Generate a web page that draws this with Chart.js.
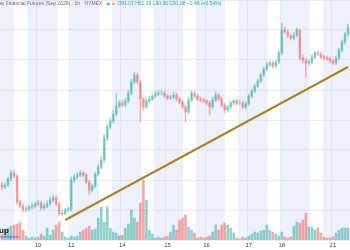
<!DOCTYPE html>
<html>
<head>
<meta charset="utf-8">
<script src="https://cdn.jsdelivr.net/npm/chart.js@4.4.0/dist/chart.umd.min.js"></script>
<style>
    html, body { margin: 0; padding: 0; background: #ffffff; }
    #wrap { width: 350px; height: 250px; }
</style>
</head>
<body>
<div id="wrap"><canvas id="chart"></canvas></div>
<script>
// hourly candles, prices
var open = [90.55, 90.53, 90.55, 90.61, 90.67, 90.64, 90.38, 90.34, 90.30, 90.31, 90.33, 90.34, 90.36, 90.37, 90.32, 90.34, 90.36, 90.40, 90.42, 90.36,
    90.26, 90.27, 90.30, 90.31, 90.60, 90.63, 90.65, 90.67, 90.65, 90.58, 90.50, 90.54, 90.66, 90.73, 90.80, 91.02, 91.13, 91.19, 91.26, 91.34,
    91.37, 91.35, 91.39, 91.47, 91.58, 91.65, 91.58, 91.41, 91.33, 91.39, 91.41, 91.44, 91.46, 91.47, 91.47, 91.44, 91.42, 91.43, 91.45, 91.41,
    91.38, 91.33, 91.28, 91.40, 91.47, 91.44, 91.41, 91.40, 91.39, 91.37, 91.33, 91.40, 91.45, 91.41, 91.35, 91.30, 91.33, 91.37, 91.39, 91.37,
    91.37, 91.33, 91.36, 91.44, 91.49, 91.54, 91.59, 91.65, 91.71, 91.75, 91.77, 91.74, 91.78, 91.87, 92.10, 92.08, 92.04, 92.02, 92.05, 92.10,
    91.82, 91.80, 91.77, 91.78, 91.83, 91.87, 91.86, 91.83, 91.82, 91.81, 91.79, 91.77, 91.82, 91.90, 91.98, 92.06];
var high = [90.58, 90.57, 90.63, 90.70, 90.70, 90.66, 90.40, 90.36, 90.34, 90.35, 90.37, 90.38, 90.40, 90.39, 90.37, 90.39, 90.43, 90.45, 90.44, 90.38,
    90.30, 90.32, 90.33, 90.63, 90.66, 90.68, 90.70, 90.69, 90.67, 90.60, 90.56, 90.68, 90.76, 90.84, 91.06, 91.16, 91.22, 91.30, 91.47, 91.40,
    91.40, 91.42, 91.50, 91.61, 91.68, 91.67, 91.60, 91.43, 91.42, 91.44, 91.46, 91.49, 91.50, 91.50, 91.49, 91.46, 91.45, 91.48, 91.47, 91.43,
    91.40, 91.35, 91.43, 91.50, 91.49, 91.46, 91.43, 91.42, 91.41, 91.39, 91.43, 91.48, 91.47, 91.43, 91.37, 91.35, 91.39, 91.41, 91.41, 91.40,
    91.39, 91.38, 91.46, 91.51, 91.56, 91.61, 91.67, 91.73, 91.78, 91.79, 91.79, 91.80, 91.90, 92.17, 92.13, 92.10, 92.06, 92.08, 92.12, 92.11,
    91.85, 91.82, 91.80, 91.85, 91.89, 91.89, 91.88, 91.85, 91.84, 91.83, 91.81, 91.84, 91.92, 92.00, 92.08, 92.16];
var low = [90.50, 90.51, 90.53, 90.59, 90.62, 90.35, 90.32, 90.28, 90.28, 90.29, 90.31, 90.32, 90.34, 90.30, 90.30, 90.32, 90.34, 90.38, 90.34, 90.24,
    90.24, 90.25, 90.28, 90.29, 90.58, 90.61, 90.63, 90.63, 90.56, 90.45, 90.48, 90.52, 90.64, 90.71, 90.78, 90.99, 91.10, 91.17, 91.24, 91.32,
    91.33, 91.33, 91.37, 91.45, 91.56, 91.56, 91.18, 91.30, 91.31, 91.37, 91.39, 91.42, 91.44, 91.45, 91.42, 91.40, 91.40, 91.41, 91.39, 91.36,
    91.31, 91.18, 91.26, 91.38, 91.42, 91.39, 91.38, 91.37, 91.35, 91.25, 91.31, 91.38, 91.39, 91.33, 91.27, 91.28, 91.31, 91.35, 91.35, 91.35,
    91.31, 91.31, 91.34, 91.42, 91.47, 91.52, 91.57, 91.63, 91.69, 91.73, 91.72, 91.72, 91.76, 91.85, 92.06, 92.02, 92.00, 92.00, 92.03, 91.80,
    91.77, 91.63, 91.75, 91.76, 91.81, 91.84, 91.81, 91.80, 91.79, 91.77, 91.75, 91.75, 91.80, 91.88, 91.96, 92.04];
var close = [90.53, 90.55, 90.61, 90.67, 90.64, 90.38, 90.34, 90.30, 90.31, 90.33, 90.34, 90.36, 90.37, 90.32, 90.34, 90.36, 90.40, 90.42, 90.36, 90.26,
    90.27, 90.30, 90.31, 90.60, 90.63, 90.65, 90.67, 90.65, 90.58, 90.50, 90.54, 90.66, 90.73, 90.80, 91.02, 91.13, 91.19, 91.26, 91.34, 91.37,
    91.35, 91.39, 91.47, 91.58, 91.65, 91.58, 91.41, 91.33, 91.39, 91.41, 91.44, 91.46, 91.47, 91.47, 91.44, 91.42, 91.43, 91.45, 91.41, 91.38,
    91.33, 91.28, 91.40, 91.47, 91.44, 91.41, 91.40, 91.39, 91.37, 91.33, 91.40, 91.45, 91.41, 91.35, 91.30, 91.33, 91.37, 91.39, 91.37, 91.37,
    91.33, 91.36, 91.44, 91.49, 91.54, 91.59, 91.65, 91.71, 91.75, 91.77, 91.74, 91.78, 91.87, 92.10, 92.08, 92.04, 92.02, 92.05, 92.10, 91.82,
    91.80, 91.77, 91.78, 91.83, 91.87, 91.86, 91.83, 91.82, 91.81, 91.79, 91.77, 91.82, 91.90, 91.98, 92.06, 92.13];
var volume = [60, 100, 120, 140, 150, 160, 180, 100, 40, 20, 30, 20, 30, 60, 40, 120, 50, 100, 150, 180,
    80, 30, 20, 40, 30, 40, 80, 100, 120, 140, 100, 110, 220, 330, 180, 330, 120, 80, 70, 40,
    50, 120, 160, 300, 220, 180, 370, 600, 400, 100, 60, 20, 30, 20, 30, 40, 80, 150, 100, 200,
    220, 250, 130, 100, 70, 20, 30, 20, 30, 40, 80, 150, 100, 150, 170, 150, 120, 70, 20, 10,
    30, 20, 40, 60, 80, 70, 90, 100, 150, 100, 80, 60, 40, 80, 30, 20, 30, 140, 180, 170,
    200, 270, 130, 130, 100, 120, 70, 30, 20, 20, 30, 70, 100, 120, 120, 120];

// day ticks on the time axis
var tickIndex = [12, 23, 40, 55, 68, 82, 93, 110];
var tickText = ["10", "12", "14", "15", "16", "17", "18", "21"];

// trend line drawn on the chart
var trendIndex = [21, 115];
var trendPrice = [90.20, 91.73];

// off-session stretches (in candle index units)
var offHours = [[4.1, 8.4], [18.4, 22.7], [32.3, 36.6], [46.2, 50.5], [60.2, 64.5], [74.1, 78.4], [88.3, 92.6], [102.3, 106.6]];

var labels = close.map(function (c, i) { return String(i); });
var upBar = "rgba(38, 166, 154, 0.5)";
var downBar = "rgba(239, 83, 80, 0.5)";
var upCandle = "rgba(38, 166, 154, 0.42)";
var downCandle = "rgba(239, 83, 80, 0.4)";
function isUp(i) { return close[i] >= open[i]; }

var trendData = labels.map(function () { return null; });
trendData[trendIndex[0]] = trendPrice[0];
trendData[trendIndex[1]] = trendPrice[1];

var bandsPlugin = {
    id: "bands",
    beforeDraw: function (chart) {
        var c = chart.ctx, a = chart.chartArea, x = chart.scales.x;
        c.save();
        c.fillStyle = "#eef1fc";
        c.fillRect(0, 0, chart.width, a.bottom);
        c.fillStyle = "#ffffff";
        offHours.forEach(function (r) {
            var x0 = x.getPixelForValue(r[0]), x1 = x.getPixelForValue(r[1]);
            c.fillRect(x0, 0, x1 - x0, a.bottom);
        });
        c.restore();
    },
    afterDraw: function (chart) {
        var c = chart.ctx;
        c.save();
        c.textBaseline = "middle";
        c.font = "5px 'Liberation Sans'";
        c.fillStyle = "#6a6d78";
        var t = "ay Financial Futures (Sep 2026) \u00b7 1h \u00b7 NYMEX";
        c.fillText(t, -1, 4);
        var w = c.measureText(t).width;
        c.fillStyle = "#26a69a";
        c.beginPath(); c.arc(w + 5, 4, 1.3, 0, Math.PI * 2); c.fill();
        c.fillStyle = "#f7a35c";
        c.beginPath(); c.arc(w + 10, 4, 1.3, 0, Math.PI * 2); c.fill();
        c.fillStyle = "#26a69a";
        c.fillText("O91.07 H91.19 L90.95 C91.08 \u22120.49 (+0.54%)", w + 14, 4);
        c.fillStyle = "#131722";
        c.font = "bold 8px 'Liberation Sans'";
        c.fillText("up", -1, 231);
        c.fillStyle = "#2962ff";
        c.font = "4px 'Liberation Sans'";
        c.fillText("tradingview", -1, 237);
        c.restore();
    }
};

var ctx = document.getElementById("chart");
var chart = new Chart(ctx, {
    data: {
        labels: labels,
        datasets: [
            {
                type: "line",
                label: "Trend",
                data: trendData,
                spanGaps: true,
                borderColor: "#a8832a",
                borderWidth: 2,
                pointRadius: 0,
                yAxisID: "y",
                order: 0,
            },
            {
                type: "bar",
                label: "Body",
                data: labels.map(function (l, i) { return [open[i], close[i]]; }),
                backgroundColor: function (c) { return isUp(c.dataIndex) ? upCandle : downCandle; },
                barThickness: 2,
                grouped: false,
                yAxisID: "y",
                order: 1,
            },
            {
                type: "bar",
                label: "Wick",
                data: labels.map(function (l, i) { return [low[i], high[i]]; }),
                backgroundColor: function (c) { return isUp(c.dataIndex) ? upCandle : downCandle; },
                barThickness: 1,
                grouped: false,
                yAxisID: "y",
                order: 2,
            },
            {
                type: "bar",
                label: "Volume",
                data: volume,
                backgroundColor: function (c) { return isUp(c.dataIndex) ? upBar : downBar; },
                barThickness: 2,
                grouped: false,
                yAxisID: "yv",
                order: 3,
            },
        ],
    },
    options: {
        responsive: true,
        maintainAspectRatio: false,
        animation: false,
        layout: { padding: 0 },
        plugins: {
            legend: { display: false },
            title: { display: false },
            tooltip: { enabled: false },
        },
        scales: {
            x: {
                grid: {
                    color: function (c) { return tickIndex.indexOf(c.index) >= 0 ? "rgba(200, 205, 220, 0.35)" : "rgba(0,0,0,0)"; },
                    drawTicks: false,
                },
                border: { display: false },
                ticks: {
                    autoSkip: false,
                    maxRotation: 0,
                    padding: 2,
                    font: { size: 6, family: "'Liberation Sans'" },
                    color: "#434651",
                    callback: function (v, i) {
                        var k = tickIndex.indexOf(i);
                        return k >= 0 ? tickText[k] : "";
                    },
                },
                afterFit: function (s) { s.height = 10; },
            },
            y: {
                position: "right",
                min: 90.00,
                max: 92.40,
                grid: { color: "rgba(200, 205, 220, 0.35)", drawTicks: false },
                border: { display: false },
                ticks: { display: false, stepSize: 0.3 },
                afterFit: function (s) { s.width = 0; },
            },
            yv: {
                display: false,
                min: 0,
                max: 2400,
            },
        },
    },
    plugins: [bandsPlugin],
});
</script>
</body>
</html>
